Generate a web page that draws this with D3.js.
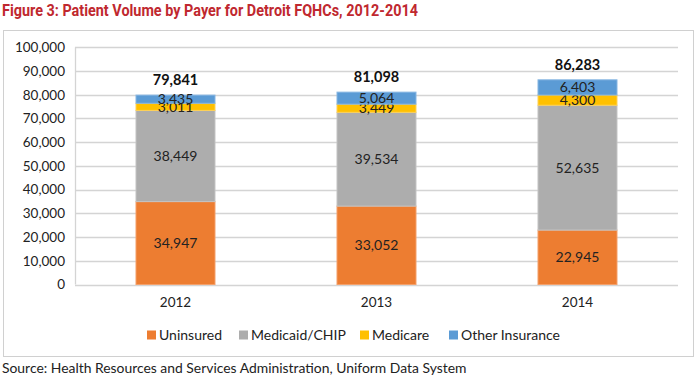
<!DOCTYPE html>
<html><head><meta charset="utf-8">
<script src="https://cdn.jsdelivr.net/npm/d3@7"></script>
<style>body{margin:0;background:#fff}svg{display:block}</style>
</head><body>
<svg id="c" width="700" height="379"></svg>
<script>
const years = ["2012","2013","2014"];
const seriesNames = ["Uninsured","Medicaid/CHIP","Medicare","Other Insurance"];
const uninsured = [34947, 33052, 22945];
const medicaid = [38449, 39534, 52635];
const medicare = [3011, 3449, 4300];
const otherIns = [3435, 5064, 6403];
const totals = [79841, 81098, 86283];
const yTicks = [0,10000,20000,30000,40000,50000,60000,70000,80000,90000,100000];
const colors = ["#ED7D31","#ADADAD","#FFC000","#5B9BD5"];
const strokes = ["#F4A06A","#C4C4C4","#FFD255","#85B5E2"];

(function(){
const svg = d3.select("#c");
const font = "Lato, 'Open Sans', sans-serif";
svg.append("rect").attr("x",3.5).attr("y",30.5).attr("width",690).attr("height",326)
  .attr("fill","#fff").attr("stroke","#d0d0d0").attr("stroke-width",1);

svg.append("text").attr("x",2).attr("y",16)
  .attr("font-family","Roboto, 'Liberation Sans', sans-serif").attr("font-weight","bold")
  .attr("font-size",17).attr("fill","#C0282F")
  .attr("textLength",416).attr("lengthAdjust","spacingAndGlyphs")
  .text("Figure 3: Patient Volume by Payer for Detroit FQHCs, 2012-2014");

const pLeft = 75, pRight = 678, pTop = 47.3, pBottom = 284.5;
const x = d3.scaleBand().domain(years).range([pLeft,pRight]).padding(0);
const y = d3.scaleLinear().domain([0,100000]).range([pBottom,pTop]);

const grid = svg.append("g");
grid.selectAll("line").data(yTicks).join("line")
  .attr("x1",pLeft).attr("x2",pRight).attr("y1",d=>Math.round(y(d))+0.5).attr("y2",d=>Math.round(y(d))+0.5)
  .attr("stroke","#d4d4d4").attr("stroke-width",1.3);
svg.append("line").attr("x1",pLeft+0.5).attr("x2",pLeft+0.5).attr("y1",pTop).attr("y2",pBottom)
  .attr("stroke","#d4d4d4").attr("stroke-width",1.3);

const yAxis = d3.axisLeft(y).tickValues(yTicks).tickFormat(d3.format(",")).tickSize(0).tickPadding(10);
const ga = svg.append("g").attr("transform",`translate(${pLeft},0)`).call(yAxis);
ga.select(".domain").remove();
ga.selectAll("text").attr("font-family",font).attr("font-size",13.5).attr("fill","#222");

const xAxis = d3.axisBottom(x).tickSize(0).tickPadding(13);
const gx = svg.append("g").attr("transform",`translate(0,${pBottom})`).call(xAxis);
gx.select(".domain").remove();
gx.selectAll("text").attr("font-family",font).attr("font-size",13.5).attr("fill","#222");

const rows = years.map((yr,i)=>({year:yr, "Uninsured":uninsured[i], "Medicaid/CHIP":medicaid[i], "Medicare":medicare[i], "Other Insurance":otherIns[i]}));
const stack = d3.stack().keys(seriesNames)(rows);
const bw = x.bandwidth()*0.393;
const bx = d => x(d.data.year) + (x.bandwidth()-bw)/2;

stack.forEach((layer,si)=>{
  const g = svg.append("g");
  g.selectAll("rect").data(layer).join("rect")
    .attr("x",bx).attr("width",bw)
    .attr("y",d=>y(d[1])).attr("height",d=>y(d[0])-y(d[1]))
    .attr("fill",colors[si]).attr("stroke",strokes[si]).attr("stroke-width",1);
  g.selectAll("text").data(layer).join("text")
    .attr("x",d=>x(d.data.year)+x.bandwidth()/2)
    .attr("y",d=>(y(d[0])+y(d[1]))/2)
    .attr("dy","0.35em").attr("text-anchor","middle")
    .attr("font-family",font).attr("font-size",14).attr("fill","#222")
    .text(d=>d3.format(",")(d[1]-d[0]));
});

svg.append("g").selectAll("text").data(years).join("text")
  .attr("x",d=>x(d)+x.bandwidth()/2)
  .attr("y",(d,i)=>y(d3.sum(seriesNames.map(k=>rows[i][k])))-10)
  .attr("text-anchor","middle").attr("font-family",font).attr("font-weight","bold")
  .attr("font-size",14.5).attr("fill","#111")
  .text((d,i)=>d3.format(",")(totals[i]));

const legX = [147, 239, 360, 449];
const lg = svg.append("g");
seriesNames.forEach((n,i)=>{
  lg.append("rect").attr("x",legX[i]).attr("y",330.5).attr("width",9).attr("height",9).attr("fill",colors[i]);
  lg.append("text").attr("x",legX[i]+12).attr("y",335).attr("dy","0.35em")
    .attr("font-family",font).attr("font-size",14).attr("fill","#222").text(n);
});

svg.append("text").attr("x",2).attr("y",373)
  .attr("font-family",font).attr("font-size",13.9).attr("fill","#222")
  .text("Source: Health Resources and Services Administration, Uniform Data System");
})();
</script>
</body></html>
